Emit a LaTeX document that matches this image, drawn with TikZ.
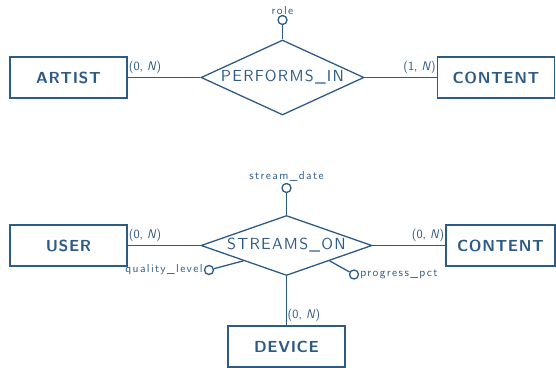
\documentclass[tikz,border=0pt]{standalone}
\usepackage{fontspec}
\usetikzlibrary{shapes.geometric}
% letter-spaced sans faces for labels
\newfontfamily\lblsans{lmsans10-regular}[Extension=.otf, LetterSpace=12]
\newfontfamily\relsans{lmsans10-regular}[Extension=.otf, LetterSpace=8]
\newfontfamily\entsans{lmsans10-bold}[Extension=.otf, LetterSpace=4]
\definecolor{erblue}{HTML}{2E5A86}
\tikzset{
  entity/.style={draw=erblue, line width=1.3pt, rectangle, minimum width=117pt, minimum height=41pt,
    inner sep=0pt, text=erblue, font=\entsans\fontsize{16}{18}\selectfont},
  relation/.style={draw=erblue, line width=1.3pt, diamond, inner sep=0pt,
    text=erblue, font=\relsans\fontsize{16}{18}\selectfont},
  attrib/.style={draw=erblue, line width=1.3pt, circle, minimum size=9pt, inner sep=0pt},
  attrlabel/.style={text=erblue, font=\lblsans\fontsize{11.5}{13}\selectfont, inner sep=1pt},
  card/.style={text=erblue, font=\sffamily\fontsize{12.5}{14}\selectfont, inner sep=1pt},
  link/.style={draw=erblue, line width=1.3pt},
}
\begin{document}
\begin{tikzpicture}[x=1pt, y=-1pt]
  \useasboundingbox (0,0) rectangle (556,367);

  % artist performs in content
  \node[entity] (artist) at (68.5,77.5) {ARTIST};
  \node[entity] (content1) at (496,77.5) {CONTENT};
  \node[relation, minimum width=163pt, minimum height=75pt, aspect=2.17] (performs) at (282.5,77.5) {PERFORMS\_IN};
  \node[attrib] (role) at (282.5,20) {};
  \node[attrlabel, anchor=base] at (282.5,14) {role};
  \draw[link] (role) -- (performs.north);
  \draw[link] (artist) -- (performs);
  \draw[link] (performs) -- (content1);
  \node[card, anchor=south west] at (artist.east |- 0,75) {(0, \textit{N})};
  \node[card, anchor=south east] at (content1.west |- 0,75) {(1, \textit{N})};

  % user streams on content via device
  \node[entity] (user) at (68.5,245.5) {USER};
  \node[entity, minimum width=109pt] (content2) at (500.5,245.5) {CONTENT};
  \node[relation, minimum width=171pt, minimum height=60pt, aspect=2.85] (streams) at (286.5,245.5) {STREAMS\_ON};
  \node[entity] (device) at (286.5,346.5) {DEVICE};
  \node[attrib] (sdate) at (286.5,188) {};
  \node[attrlabel, anchor=base] at (286.5,179) {stream\_date};
  \node[attrib] (qlevel) at (209,270) {};
  \node[attrlabel, anchor=east] at (qlevel.west) {quality\_level};
  \node[attrib] (ppct) at (354,274.5) {};
  \node[attrlabel, anchor=west] at (ppct.east) {progress\_pct};
  \draw[link] (sdate) -- (streams.north);
  \draw[link] (qlevel) -- (streams.south west);
  \draw[link] (ppct) -- (streams.south east);
  \draw[link] (user) -- (streams);
  \draw[link] (streams) -- (content2);
  \draw[link] (streams.south) -- (device.north);
  \node[card, anchor=south west] at (user.east |- 0,243) {(0, \textit{N})};
  \node[card, anchor=south east] at (content2.west |- 0,243) {(0, \textit{N})};
  \node[card, anchor=south west] at (device.north |- 0,323) {(0, \textit{N})};
\end{tikzpicture}
\end{document}
